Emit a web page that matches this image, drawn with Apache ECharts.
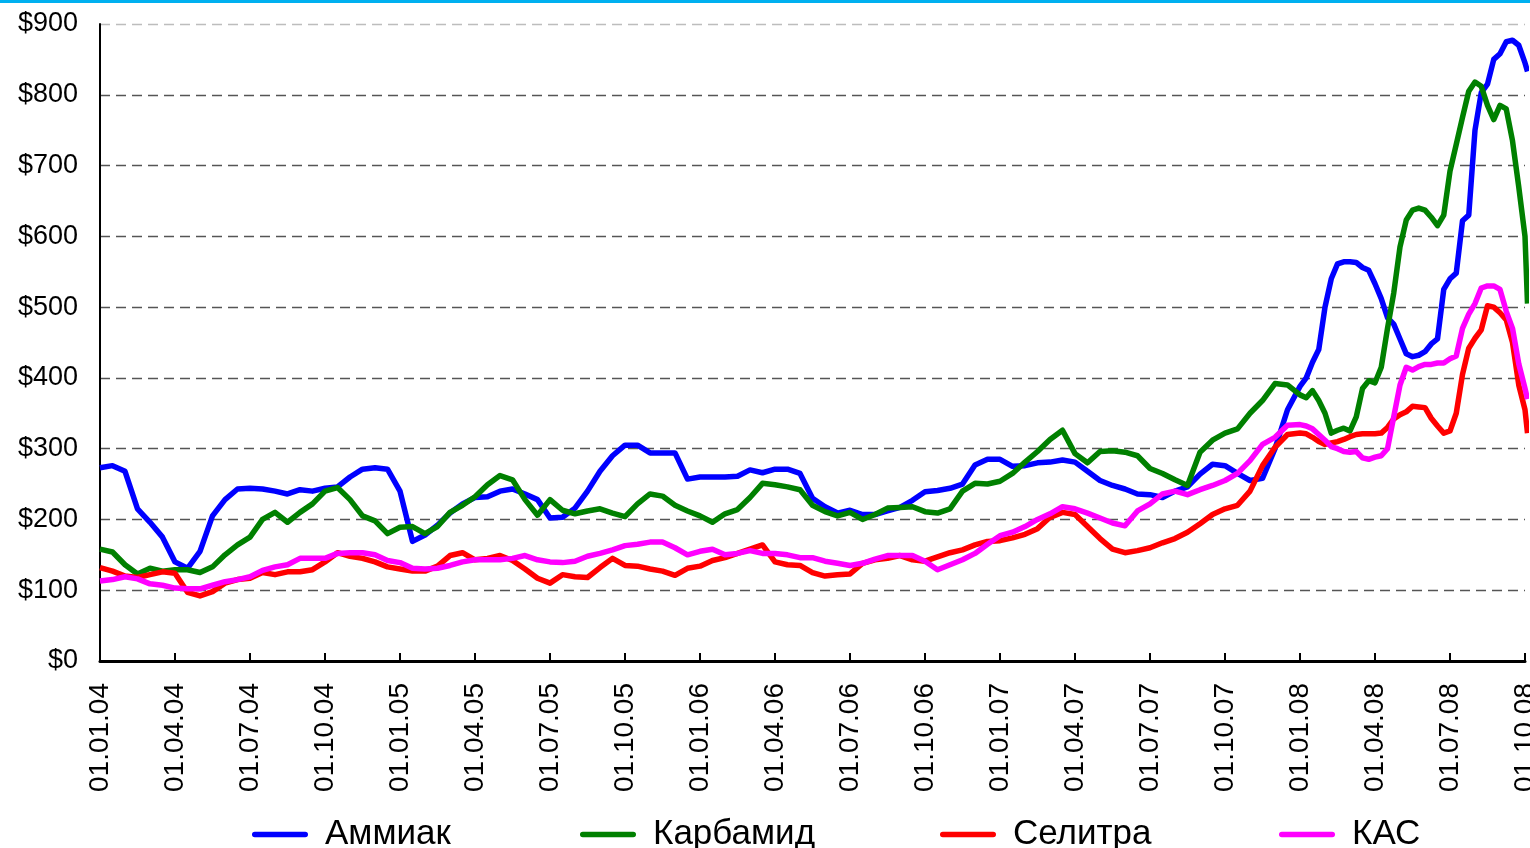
<!DOCTYPE html>
<html><head><meta charset="utf-8">
<script src="https://cdn.jsdelivr.net/npm/echarts@6/dist/echarts.min.js"></script>
<style>html,body{margin:0;padding:0;background:#fff;overflow:hidden}#c{width:1530px;height:848px}</style>
</head><body><div id="c"></div>
<script>
// x positions: months since 01.01.2004
const months = [
0,0.5,1,1.5,2,2.5,3,3.5,4,4.5,
5,5.5,6,6.5,7,7.5,8,8.5,9,9.5,
10,10.5,11,11.5,12,12.5,13,13.5,14,14.5,
15,15.5,16,16.5,17,17.5,18,18.5,19,19.5,
20,20.5,21,21.5,22,22.5,23,23.5,24,24.5,
25,25.5,26,26.5,27,27.5,28,28.5,29,29.5,
30,30.5,31,31.5,32,32.5,33,33.5,34,34.5,
35,35.5,36,36.5,37,37.5,38,38.5,39,39.5,
40,40.5,41,41.5,42,42.5,43,43.5,44,44.5,
45,45.5,46,46.5,47,47.5,
48,48.25,48.5,48.75,49,49.25,49.5,49.75,50,50.25,
50.5,50.75,51,51.25,51.5,51.75,52,52.25,52.5,52.75,
53,53.25,53.5,53.75,54,54.25,54.5,54.75,55,55.25,
55.5,55.75,56,56.25,56.5,56.75,57,
57.1];
const seriesNames = ['Аммиак','Карбамид','Селитра','КАС'];
const ammonia = [
273,276,268,215,196,175,140,131,155,205,
228,243,244,243,240,236,242,240,244,246,
260,271,273,271,240,169,178,192,209,222,
231,232,240,243,236,228,202,203,216,240,
268,290,305,305,294,294,294,257,260,260,
260,261,270,266,271,271,265,230,218,209,
213,207,207,212,217,227,239,241,244,250,
277,285,285,275,276,280,281,284,281,268,
255,248,243,236,235,231,240,246,264,278,
276,265,255,258,300,355,
388,400,422,440,500,540,561,564,564,563,
556,552,533,512,485,476,455,434,430,432,
437,448,455,525,540,548,622,630,750,803,
815,850,858,875,877,870,845,
833];
const urea = [
158,154,136,123,131,127,129,129,125,133,
150,164,175,200,210,196,210,222,240,245,
228,205,198,180,189,190,180,190,210,220,
232,249,262,256,228,206,228,213,208,212,
215,209,204,222,236,233,220,212,205,196,
208,214,231,251,249,246,242,220,211,205,
210,200,207,216,217,218,211,209,215,240,
251,250,254,265,281,296,313,326,293,280,
296,297,295,290,272,265,256,248,295,312,
322,328,350,368,392,390,
376,372,382,368,350,322,326,329,325,345,
385,396,393,415,470,520,585,623,637,640,
637,627,615,630,692,730,768,805,818,812,
785,765,785,780,735,670,600,
505];
const nitrate = [
132,127,120,118,122,126,124,97,92,98,
110,115,117,125,122,126,126,129,140,153,
148,145,140,133,130,127,127,134,149,153,
143,145,149,142,130,117,110,122,119,118,
132,145,135,134,130,127,121,131,134,142,
146,152,158,164,140,136,135,125,120,122,
123,138,143,145,149,143,141,147,153,157,
164,169,170,174,179,187,203,210,207,190,
173,158,153,156,160,167,173,182,194,207,
215,220,240,276,302,320,
322,321,316,310,306,308,310,313,317,320,
321,321,321,322,330,342,348,352,360,359,
358,343,332,322,325,350,405,442,456,468,
502,500,492,482,450,390,355,
322];
const uan = [
113,115,119,116,109,107,103,102,102,107,
112,115,119,128,133,136,145,145,145,152,
153,153,150,142,139,131,130,131,135,140,
143,143,143,145,149,143,140,139,141,148,
152,157,163,165,168,168,160,150,155,158,
150,152,156,152,152,150,146,146,141,138,
135,138,144,149,149,149,141,129,136,143,
152,165,177,182,190,200,208,218,215,209,
202,195,191,212,222,236,240,235,242,248,
255,265,283,306,316,333,
334,332,328,320,312,303,300,296,295,296,
287,285,288,290,300,345,390,415,411,416,
419,419,421,421,427,431,470,490,505,527,
530,530,525,494,470,420,385,
370];
const yTicks = [0,100,200,300,400,500,600,700,800,900];
const colors = ['#0000FF','#008000','#FF0000','#FF00FF'];
const values = [ammonia, urea, nitrate, uan];

function pad(n){return (n<10?'0':'')+n;}
const chart = echarts.init(document.getElementById('c'));
const font = 'Liberation Sans, Arial, sans-serif';
const capsule = 'path://M5,0 H95 A5,5 0 0 1 95,10 H5 A5,5 0 0 1 5,0 Z';
const legendLefts = [247, 575, 935, 1274];
chart.setOption({
  animation: false,
  backgroundColor: '#fff',
  graphic: [{type:'rect', left:0, top:0, shape:{width:1530, height:3}, style:{fill:'#00B0F0'}}],
  grid: {left:100, right:5, top:24, bottom:187, containLabel:false, outerBoundsMode:'none'},
  legend: seriesNames.map((n,i)=>({
    data:[n], left: legendLefts[i], top: 812, orient:'horizontal',
    icon: capsule, itemWidth: 56, itemHeight: 7,
    textStyle:{fontFamily:font, fontSize:35, color:'#000', padding:[0,0,0,12]}
  })),
  xAxis: {
    type:'value', min:0, max:57, interval:3,
    axisLine:{show:true, lineStyle:{color:'#000', width:3}},
    axisTick:{show:true, inside:true, length:8, lineStyle:{color:'#000', width:2}},
    splitLine:{show:false},
    axisLabel:{
      rotate:90, margin:22, fontFamily:font, fontSize:28, color:'#000',
      showMaxLabel:true, hideOverlap:false,
      formatter:function(v){
        if (Math.abs(v/3 - Math.round(v/3))>1e-6) return '';
        const mo = Math.round(v)%12 + 1, yr = 4 + Math.floor(Math.round(v)/12);
        return '01.'+pad(mo)+'.'+pad(yr);
      }
    }
  },
  yAxis: {
    type:'value', min:yTicks[0], max:yTicks[yTicks.length-1], interval:100,
    axisLine:{show:true, lineStyle:{color:'#000', width:2}},
    axisTick:{show:false},
    axisLabel:{margin:22, fontFamily:font, fontSize:27, color:'#000', formatter:v=>'$'+v},
    splitLine:{show:true, lineStyle:{type:[10,6], width:1.3,
      color:['#555','#555','#555','#555','#555','#555','#555','#555','#555','#bdbdbd']}}
  },
  series: seriesNames.map((n,i)=>({
    name:n, type:'line', showSymbol:false, symbol:'none', clip:false,
    data: months.map((m,k)=>[m, values[i][k]]),
    lineStyle:{width:5.5, color:colors[i], join:'round'},
    itemStyle:{color:colors[i]},
    z: 2+i
  }))
});
</script></body></html>
